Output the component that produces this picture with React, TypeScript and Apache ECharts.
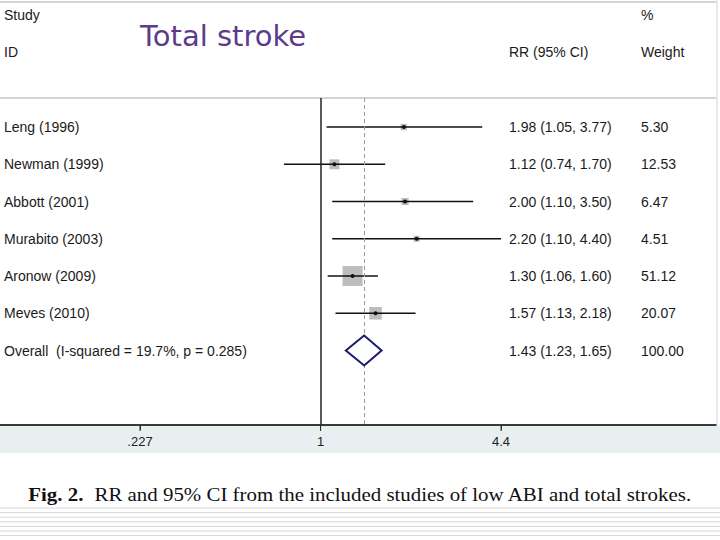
import React, { useEffect, useRef } from "react";
import * as echarts from "echarts";

// Study-level relative risks with 95% confidence intervals and pooled weights
const studies = ["Leng (1996)", "Newman (1999)", "Abbott (2001)", "Murabito (2003)", "Aronow (2009)", "Meves (2010)"];
const rr = [1.98, 1.12, 2.0, 2.2, 1.3, 1.57];
const lower = [1.05, 0.74, 1.1, 1.1, 1.06, 1.13];
const upper = [3.77, 1.7, 3.5, 4.4, 1.6, 2.18];
const weights = [5.3, 12.53, 6.47, 4.51, 51.12, 20.07];

// Pooled estimate
const overallLabel = "Overall  (I-squared = 19.7%, p = 0.285)";
const overallRR = 1.43;
const overallLower = 1.23;
const overallUpper = 1.65;
const overallWeight = 100.0;

// Axis ticks
const tickValues = [0.227, 1, 4.4];
const tickLabels = [".227", "1", "4.4"];

const SANS = "Liberation Sans, Arial, sans-serif";
const SERIF = "Liberation Serif, Times New Roman, serif";
const TEXT = "#1a1a1a";
const AXIS = "#2e2e2e";
const COL_RR = 509;
const COL_W = 641;
const Y_MIN = -0.78;
const Y_MAX = 8;

const fmtCI = (e: number, l: number, u: number) => `${e.toFixed(2)} (${l.toFixed(2)}, ${u.toFixed(2)})`;

export default function App() {
  const ref = useRef<HTMLDivElement>(null);

  useEffect(() => {
    if (!ref.current) return;
    const chart = echarts.init(ref.current, undefined, { renderer: "svg" });

    const studyData = studies.map((s, i) => [lower[i], upper[i], rr[i], i, weights[i]]);
    const overallRow = studies.length;

    const textEl = (x: number, y: number, text: string) => ({
      type: "text",
      x,
      y,
      style: { text, fill: TEXT, fontSize: 14, fontFamily: SANS, verticalAlign: "middle", align: "left" },
    });

    const headerText = (x: number, y: number, text: string) => ({
      type: "text",
      x,
      y,
      style: { text, fill: TEXT, fontSize: 14, fontFamily: SANS, verticalAlign: "middle" },
    });

    const option: any = {
      animation: false,
      backgroundColor: "transparent",
      grid: { left: 0, right: 4, top: 98, bottom: 115 },
      xAxis: {
        type: "log",
        position: "bottom",
        min: 0.0719,
        max: 25.7,
        splitLine: { show: false },
        axisLine: { show: true, onZero: false, lineStyle: { color: AXIS, width: 1.5 } },
        axisTick: { show: true, length: 5, customValues: tickValues, lineStyle: { color: AXIS, width: 1 } },
        axisLabel: {
          customValues: tickValues,
          margin: 10,
          fontSize: 13,
          fontFamily: SANS,
          color: "#222",
          formatter: (v: number) => {
            const idx = tickValues.findIndex((t) => Math.abs(t - v) / t < 1e-3);
            return idx >= 0 ? tickLabels[idx] : "";
          },
        },
      },
      yAxis: { type: "value", inverse: true, min: Y_MIN, max: Y_MAX, show: false },
      graphic: [
        { type: "line", shape: { x1: 0, y1: 2, x2: 717, y2: 2 }, style: { stroke: "#d4d4d4", lineWidth: 2 } },
        { type: "line", shape: { x1: 0, y1: 98, x2: 717, y2: 98 }, style: { stroke: "#d4d4d4", lineWidth: 2 } },
        { type: "line", shape: { x1: 717, y1: 0, x2: 717, y2: 425 }, style: { stroke: "#dfe5e8", lineWidth: 1.5 } },
        headerText(4, 15, "Study"),
        headerText(4, 52, "ID"),
        headerText(COL_RR, 52, "RR (95% CI)"),
        headerText(COL_W, 15, "%"),
        headerText(COL_W, 52, "Weight"),
        {
          type: "text",
          x: 140,
          y: 36,
          style: { text: "Total stroke", fill: "#5e3a8c", fontSize: 29, fontFamily: "DejaVu Sans, sans-serif", verticalAlign: "middle" },
        },
        {
          type: "text",
          x: 360,
          y: 494,
          scaleX: 1.1,
          style: {
            text: "{b|Fig. 2.}  RR and 95% CI from the included studies of low ABI and total strokes.",
            fill: "#111",
            fontSize: 19,
            fontFamily: SERIF,
            align: "center",
            verticalAlign: "middle",
            rich: {
              b: { fontWeight: "bold", fontSize: 19, fontFamily: SERIF, fill: "#111" },
            },
          },
        },
        ...[0, 1, 2, 3, 4, 5, 6].map((k) => ({
          type: "line",
          shape: { x1: 0, y1: 508 + 4.6 * k, x2: 720, y2: 508 + 4.6 * k },
          style: { stroke: "#d8d8d8", lineWidth: 1 },
        })),
      ],
      series: [
        {
          type: "custom",
          name: "studies",
          z: 2,
          data: studyData,
          encode: { x: [0, 1, 2], y: 3 },
          renderItem: (params: any, api: any) => {
            const lo = api.value(0);
            const hi = api.value(1);
            const est = api.value(2);
            const row = api.value(3);
            const w = api.value(4);
            const i = params.dataIndex;
            const pLo = api.coord([lo, row]);
            const pHi = api.coord([hi, row]);
            const pE = api.coord([est, row]);
            // square area proportional to the study weight
            const s = 2.8 * Math.sqrt(w);
            return {
              type: "group",
              children: [
                { type: "rect", shape: { x: pE[0] - s / 2, y: pE[1] - s / 2, width: s, height: s }, style: { fill: "#bdbdbd" } },
                { type: "line", shape: { x1: pLo[0], y1: pLo[1], x2: pHi[0], y2: pHi[1] }, style: { stroke: "#111", lineWidth: 1.5 } },
                { type: "circle", shape: { cx: pE[0], cy: pE[1], r: 2 }, style: { fill: "#111" } },
                textEl(4, pE[1], studies[i]),
                textEl(COL_RR, pE[1], fmtCI(est, lo, hi)),
                textEl(COL_W, pE[1], w.toFixed(2)),
              ],
            };
          },
          markLine: {
            silent: true,
            symbol: "none",
            label: { show: false },
            data: [
              { xAxis: 1, lineStyle: { type: "solid", color: "#222", width: 1.5 } },
              { xAxis: overallRR, lineStyle: { type: [4, 3], color: "#9a9a9a", width: 1 } },
              // baseline along the bottom of the plot
              { yAxis: Y_MAX, lineStyle: { type: "solid", color: AXIS, width: 1.5 } },
            ],
          },
        },
        {
          // tick marks under the baseline at the labelled values
          type: "custom",
          name: "ticks",
          z: 6,
          silent: true,
          data: tickValues.map((v) => [v, Y_MAX]),
          encode: { x: 0, y: 1 },
          renderItem: (_params: any, api: any) => {
            const p = api.coord([api.value(0), api.value(1)]);
            return {
              type: "line",
              shape: { x1: p[0], y1: p[1], x2: p[0], y2: p[1] + 6 },
              style: { stroke: AXIS, lineWidth: 1 },
            };
          },
        },
        {
          type: "custom",
          name: "overall",
          z: 5,
          data: [[overallLower, overallUpper, overallRR, overallRow, overallWeight]],
          encode: { x: [0, 1, 2], y: 3 },
          renderItem: (_params: any, api: any) => {
            const lo = api.value(0);
            const hi = api.value(1);
            const est = api.value(2);
            const row = api.value(3);
            const w = api.value(4);
            const pLo = api.coord([lo, row]);
            const pHi = api.coord([hi, row]);
            const pE = api.coord([est, row]);
            const h = 15;
            return {
              type: "group",
              children: [
                {
                  type: "polygon",
                  shape: { points: [pLo, [pE[0], pE[1] - h], pHi, [pE[0], pE[1] + h]] },
                  style: { fill: "#ffffff", stroke: "#1b1b6b", lineWidth: 2 },
                },
                textEl(4, pE[1], overallLabel),
                textEl(COL_RR, pE[1], fmtCI(est, lo, hi)),
                textEl(COL_W, pE[1], w.toFixed(2)),
              ],
            };
          },
        },
      ],
    };

    chart.setOption(option);
    return () => chart.dispose();
  }, []);

  // The light axis band behind the chart sits in the container's own background
  return (
    <div
      ref={ref}
      style={{
        position: "fixed",
        left: 0,
        top: 0,
        width: 720,
        height: 540,
        background: "linear-gradient(to bottom, #ffffff 0px, #ffffff 425px, #e8eff1 425px, #e8eff1 453px, #ffffff 453px)",
      }}
    />
  );
}
